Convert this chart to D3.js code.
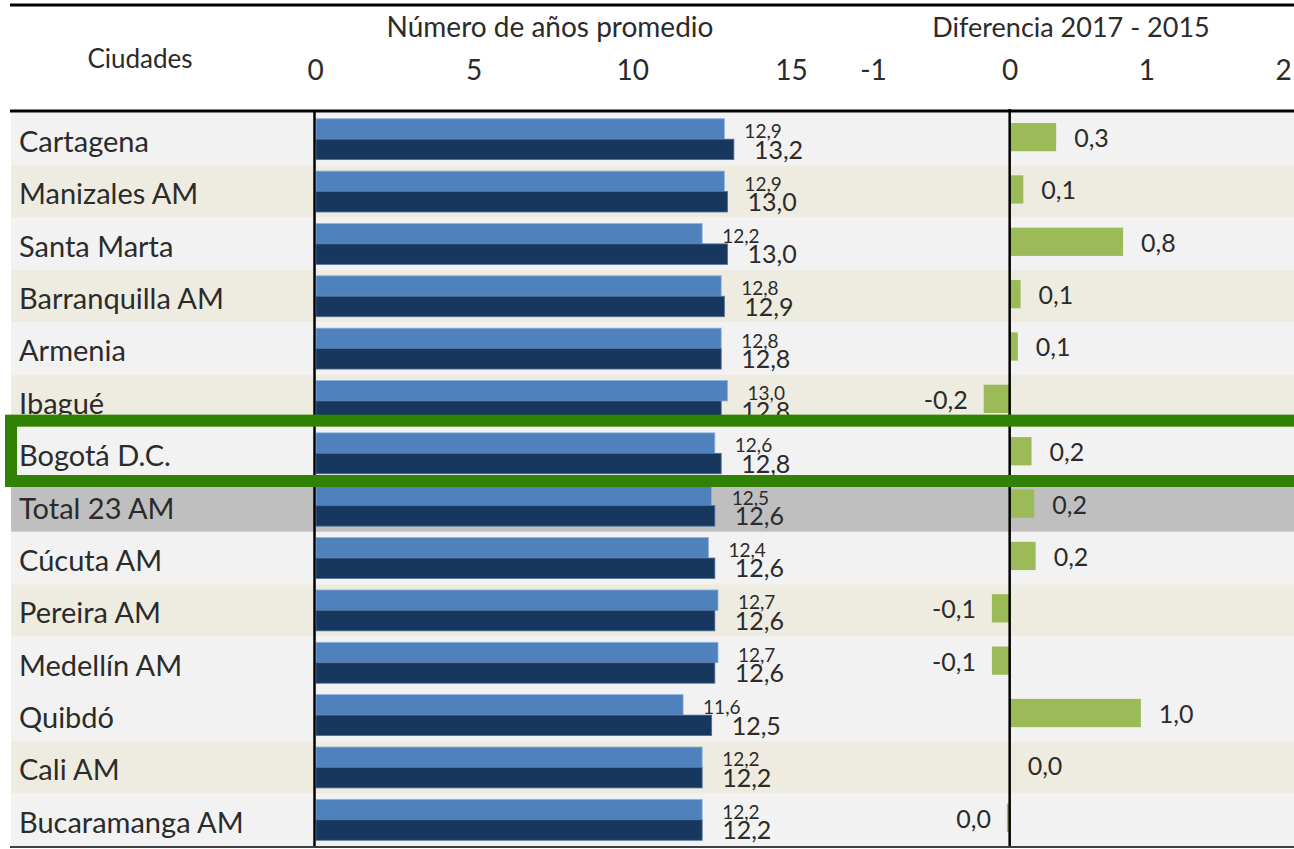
<!DOCTYPE html>
<html>
<head>
<meta charset="utf-8">
<script src="https://cdn.jsdelivr.net/npm/d3@7"></script>
<style>
  body { margin: 0; background: #fff; }
  svg text { font-family: Lato, "Open Sans", sans-serif; font-weight: 400; fill: #2b2b2b; }
</style>
</head>
<body>
<svg id="chart" width="1294" height="849"></svg>
<script>
// data
const cities = ["Cartagena", "Manizales AM", "Santa Marta", "Barranquilla AM", "Armenia", "Ibagué",
  "Bogotá D.C.", "Total 23 AM", "Cúcuta AM", "Pereira AM", "Medellín AM", "Quibdó", "Cali AM", "Bucaramanga AM"];
const years2015 = [12.9, 12.9, 12.2, 12.8, 12.8, 13.0, 12.6, 12.5, 12.4, 12.7, 12.7, 11.6, 12.2, 12.2];
const years2017 = [13.2, 13.0, 13.0, 12.9, 12.8, 12.8, 12.8, 12.6, 12.6, 12.6, 12.6, 12.5, 12.2, 12.2];
const difference = [0.34, 0.1, 0.83, 0.08, 0.06, -0.19, 0.16, 0.18, 0.19, -0.13, -0.13, 0.96, 0.0, -0.02];
const mainTicks = [0, 5, 10, 15];
const diffTicks = [-1, 0, 1, 2];
const highlight = "Bogotá D.C.";
const total = "Total 23 AM";

const beigeRows = new Set(["Manizales AM", "Barranquilla AM", "Ibagué", "Pereira AM", "Cali AM"]);

const svg = d3.select("#chart");
const W = 1294;

const locale = d3.formatLocale({ decimal: ",", thousands: ".", grouping: [3], currency: ["$", ""], minus: "-" });
const f1 = locale.format(".1f");
const fInt = locale.format("d");
const fmt = v => f1(Math.abs(v) < 0.05 ? 0 : v);

const y = d3.scaleBand().domain(cities).range([113, 846]).padding(0);
const ySub = d3.scaleBand().domain(["2015", "2017"]).range([0, y.bandwidth()]).paddingOuter(0.28).paddingInner(0);
const x = d3.scaleLinear().domain([0, 15]).range([315, 791]);
const xd = d3.scaleLinear().domain([-1, 2]).range([873, 1283]);

const rows = cities.map((c, i) => ({ city: c, v15: years2015[i], v17: years2017[i], d: difference[i] }));

// row backgrounds
svg.append("g").selectAll("rect")
  .data(rows)
  .join("rect")
  .attr("x", 11)
  .attr("y", d => y(d.city))
  .attr("width", W - 11)
  .attr("height", y.bandwidth())
  .attr("fill", d => d.city === total ? "#bfbfbf" : beigeRows.has(d.city) ? "#eeebe0" : "#f2f2f2");

// header rules
svg.append("line").attr("x1", 10).attr("x2", W).attr("y1", 5).attr("y2", 5)
  .attr("stroke", "#000").attr("stroke-width", 3);
svg.append("line").attr("x1", 10).attr("x2", W).attr("y1", 111).attr("y2", 111)
  .attr("stroke", "#000").attr("stroke-width", 3);
svg.append("line").attr("x1", 10).attr("x2", W).attr("y1", 847).attr("y2", 847)
  .attr("stroke", "#000").attr("stroke-width", 1.5);

// header texts
svg.append("text").attr("x", 140).attr("y", 68).attr("text-anchor", "middle")
  .style("font-size", "26px").text("Ciudades");
svg.append("text").attr("x", 550).attr("y", 37).attr("text-anchor", "middle")
  .style("font-size", "28px").text("Número de años promedio");
svg.append("text").attr("x", 1071).attr("y", 37).attr("text-anchor", "middle")
  .style("font-size", "27px").text("Diferencia 2017 - 2015");

const topAxis = (scale, ticks) => d3.axisTop(scale).tickValues(ticks).tickSize(0).tickPadding(0)
  .tickFormat(fInt);
[[x, mainTicks], [xd, diffTicks]].forEach(([s, t]) => {
  const g = svg.append("g").attr("transform", "translate(0,80)").call(topAxis(s, t));
  g.select(".domain").remove();
  g.selectAll("text").attr("dy", 0).style("font-size", "28px")
    .style("font-family", "Lato, sans-serif").attr("fill", "#2b2b2b");
});

// city labels
svg.append("g").selectAll("text")
  .data(rows)
  .join("text")
  .attr("x", 19)
  .attr("y", d => y(d.city) + 39)
  .style("font-size", "29px")
  .text(d => d.city);

// main bars
const series = [
  { key: "2015", get: d => d.v15, fill: "#4f81bd", stroke: "#8db3e2", size: 19 },
  { key: "2017", get: d => d.v17, fill: "#17375e", stroke: "#4f6f99", size: 25 }
];
series.forEach(s => {
  svg.append("g").selectAll("rect")
    .data(rows)
    .join("rect")
    .attr("x", x(0) + 1)
    .attr("y", d => y(d.city) + ySub(s.key))
    .attr("width", d => x(s.get(d)) - x(0) - 1)
    .attr("height", ySub.bandwidth())
    .attr("fill", s.fill)
    .attr("stroke", s.stroke)
    .attr("stroke-width", 0.8);
});
series.forEach(s => {
  svg.append("g").selectAll("text")
    .data(rows)
    .join("text")
    .attr("x", d => x(s.get(d)) + 20)
    .attr("y", d => y(d.city) + ySub(s.key) + ySub.bandwidth() - 1)
    .style("font-size", s.size + "px")
    .text(d => fmt(s.get(d)));
});

// difference bars
const dTop = y.bandwidth() * 0.19, dH = y.bandwidth() * 0.54;
svg.append("g").selectAll("rect")
  .data(rows)
  .join("rect")
  .attr("x", d => Math.min(xd(0), xd(d.d)))
  .attr("y", d => y(d.city) + dTop)
  .attr("width", d => Math.abs(xd(d.d) - xd(0)))
  .attr("height", dH)
  .attr("fill", "#9bbb59");
svg.append("g").selectAll("text")
  .data(rows)
  .join("text")
  .attr("x", d => d.d < 0 ? xd(d.d) - 16 : xd(d.d) + 18)
  .attr("y", d => y(d.city) + 34)
  .attr("text-anchor", d => d.d < 0 ? "end" : "start")
  .style("font-size", "25px")
  .text(d => fmt(d.d));

// axis lines
svg.append("line").attr("x1", x(0) - 0.5).attr("x2", x(0) - 0.5).attr("y1", 111).attr("y2", 846)
  .attr("stroke", "#000").attr("stroke-width", 2.5);
svg.append("line").attr("x1", xd(0)).attr("x2", xd(0)).attr("y1", 109).attr("y2", 846)
  .attr("stroke", "#000").attr("stroke-width", 2.5);

// highlight box
svg.append("rect")
  .attr("x", 11)
  .attr("y", y(highlight) - 6.5)
  .attr("width", W + 20)
  .attr("height", y.bandwidth() + 8)
  .attr("fill", "none")
  .attr("stroke", "#2f8204")
  .attr("stroke-width", 12);
</script>
</body>
</html>
